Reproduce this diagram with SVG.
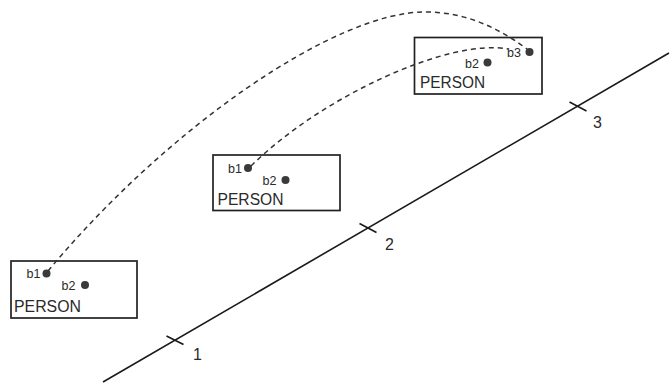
<svg xmlns="http://www.w3.org/2000/svg" width="670" height="384" viewBox="0 0 670 384">
<style>
.box{fill:#fff;stroke:#222;stroke-width:1.7}
.dot{fill:#3a3a3a}
.lbl{font-family:"Liberation Sans",Arial,sans-serif;font-size:12.5px;fill:#2a2a2a}
.name{font-family:"Liberation Sans",Arial,sans-serif;font-size:16px;fill:#2a2a2a}
.num{font-family:"Liberation Sans",Arial,sans-serif;font-size:16px;fill:#2a2a2a}
.dash{fill:none;stroke:#333;stroke-width:1.5;stroke-dasharray:5 4}
.axis{fill:none;stroke:#1a1a1a;stroke-width:1.6}
</style>
<rect width="670" height="384" fill="#fff"/>
<g id="axis">
<line class="axis" x1="103" y1="382" x2="669" y2="53"/>
<line class="axis" x1="166.5" y1="336" x2="183.5" y2="344.5"/>
<line class="axis" x1="359.5" y1="223.5" x2="376.5" y2="232.5"/>
<line class="axis" x1="569.5" y1="102" x2="586.5" y2="111"/>
<text class="num" x="193" y="360">1</text>
<text class="num" x="385" y="250">2</text>
<text class="num" x="593" y="128">3</text>
</g>
<g id="person1">
<rect class="box" x="11" y="261" width="126" height="57"/>
<text class="lbl" x="26.5" y="278">b1</text>
<circle class="dot" cx="46.5" cy="273.5" r="4"/>
<text class="lbl" x="61.5" y="290">b2</text>
<circle class="dot" cx="85" cy="285" r="4"/>
<text class="name" x="14" y="312" textLength="67" lengthAdjust="spacingAndGlyphs">PERSON</text>
</g>
<g id="person2">
<rect class="box" x="213" y="155" width="127" height="55.5"/>
<text class="lbl" x="228" y="172.5">b1</text>
<circle class="dot" cx="248" cy="168" r="4"/>
<text class="lbl" x="262.5" y="185">b2</text>
<circle class="dot" cx="285.5" cy="180" r="4"/>
<text class="name" x="217.5" y="205" textLength="66" lengthAdjust="spacingAndGlyphs">PERSON</text>
</g>
<g id="person3">
<rect class="box" x="414.5" y="37.5" width="127.5" height="56.5"/>
<text class="lbl" x="465" y="67.5">b2</text>
<circle class="dot" cx="487.5" cy="62.5" r="4"/>
<text class="lbl" x="507" y="56.5">b3</text>
<circle class="dot" cx="529.5" cy="52" r="4"/>
<text class="name" x="420" y="88" textLength="65" lengthAdjust="spacingAndGlyphs">PERSON</text>
</g>
<g id="connectors">
<path class="dash" d="M48,271 C168,127 335,12 425,12 C465,12 497,27 527,49"/>
<path class="dash" d="M251,166 C322,96 450,38 508,49"/>
</g>
</svg>
